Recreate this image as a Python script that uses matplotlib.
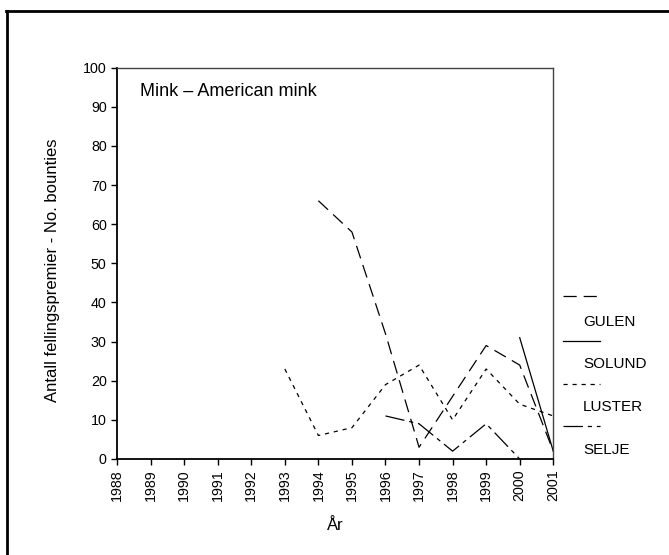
import numpy as np
import matplotlib
matplotlib.use("Agg")
import matplotlib.pyplot as plt
from matplotlib.lines import Line2D

plt.rcParams["font.family"] = ["Liberation Sans", "DejaVu Sans"]
plt.rcParams["lines.scale_dashes"] = False

nan = np.nan
years = list(range(1988, 2002))
gulen = [nan, nan, nan, nan, nan, nan, 66, 58, 32, 3, 16, 29, 24, 2]
solund = [nan, nan, nan, nan, nan, nan, nan, nan, nan, nan, nan, nan, 31, 2]
luster = [nan, nan, nan, nan, nan, 23, 6, 8, 19, 24, 10, 23, 14, 11]
selje = [nan, nan, nan, nan, nan, nan, nan, nan, 11, 9, 2, 9, 0, nan]

series = [
    ("GULEN", gulen, (0, (9.5, 5))),
    ("SOLUND", solund, "-"),
    ("LUSTER", luster, (0, (3, 3.5))),
    ("SELJE", selje, (0, (14, 3.5, 3, 3.5))),
]

fig = plt.figure(figsize=(6.69, 5.55), dpi=100)
ax = fig.add_axes([0.175, 0.173, 0.652, 0.705])

for name, vals, ls in series:
    ax.plot(years, vals, color="black", lw=0.9, linestyle=ls)

ax.set_xlim(1988, 2001)
ax.set_ylim(0, 100)
ax.set_xticks(years)
ax.set_xticklabels([str(y) for y in years], rotation=90, fontsize=10.3)
ax.set_yticks(range(0, 101, 10))
ax.tick_params(axis="y", labelsize=10.3)
ax.tick_params(direction="out", length=4, width=1)
for side in ["left", "bottom"]:
    ax.spines[side].set_linewidth(1.3)
for side in ["top", "right"]:
    ax.spines[side].set_linewidth(1.0)
    ax.spines[side].set_color("#444444")

ax.set_ylabel("Antall fellingspremier - No. bounties", fontsize=12)
ax.yaxis.set_label_coords(-0.13, 0.483)
ax.set_xlabel("År", fontsize=12)
ax.xaxis.set_label_coords(0.5, -0.15)
ax.text(0.052, 0.94, "Mink – American mink", transform=ax.transAxes,
        fontsize=13, va="center", ha="left")

# legend outside the axes, line sample above each label
W, H = 669, 555
leg_y = [296, 341, 384, 426]
lab_y = [322, 364, 407, 450]
for (name, vals, ls), ly, ty in zip(series, leg_y, lab_y):
    fig.add_artist(Line2D([563 / W, 600 / W], [1 - ly / H, 1 - ly / H],
                          color="black", lw=0.9, linestyle=ls))
    fig.text(583 / W, 1 - ty / H, name, fontsize=11, va="center", ha="left")

# outer frame (cropped at right and bottom)
fig.add_artist(Line2D([7 / W, 7 / W], [0, 1 - 11 / H], color="black", lw=2))
fig.add_artist(Line2D([6 / W, 1], [1 - 11 / H, 1 - 11 / H], color="black", lw=2))

fig.savefig("out.png", dpi=100)
